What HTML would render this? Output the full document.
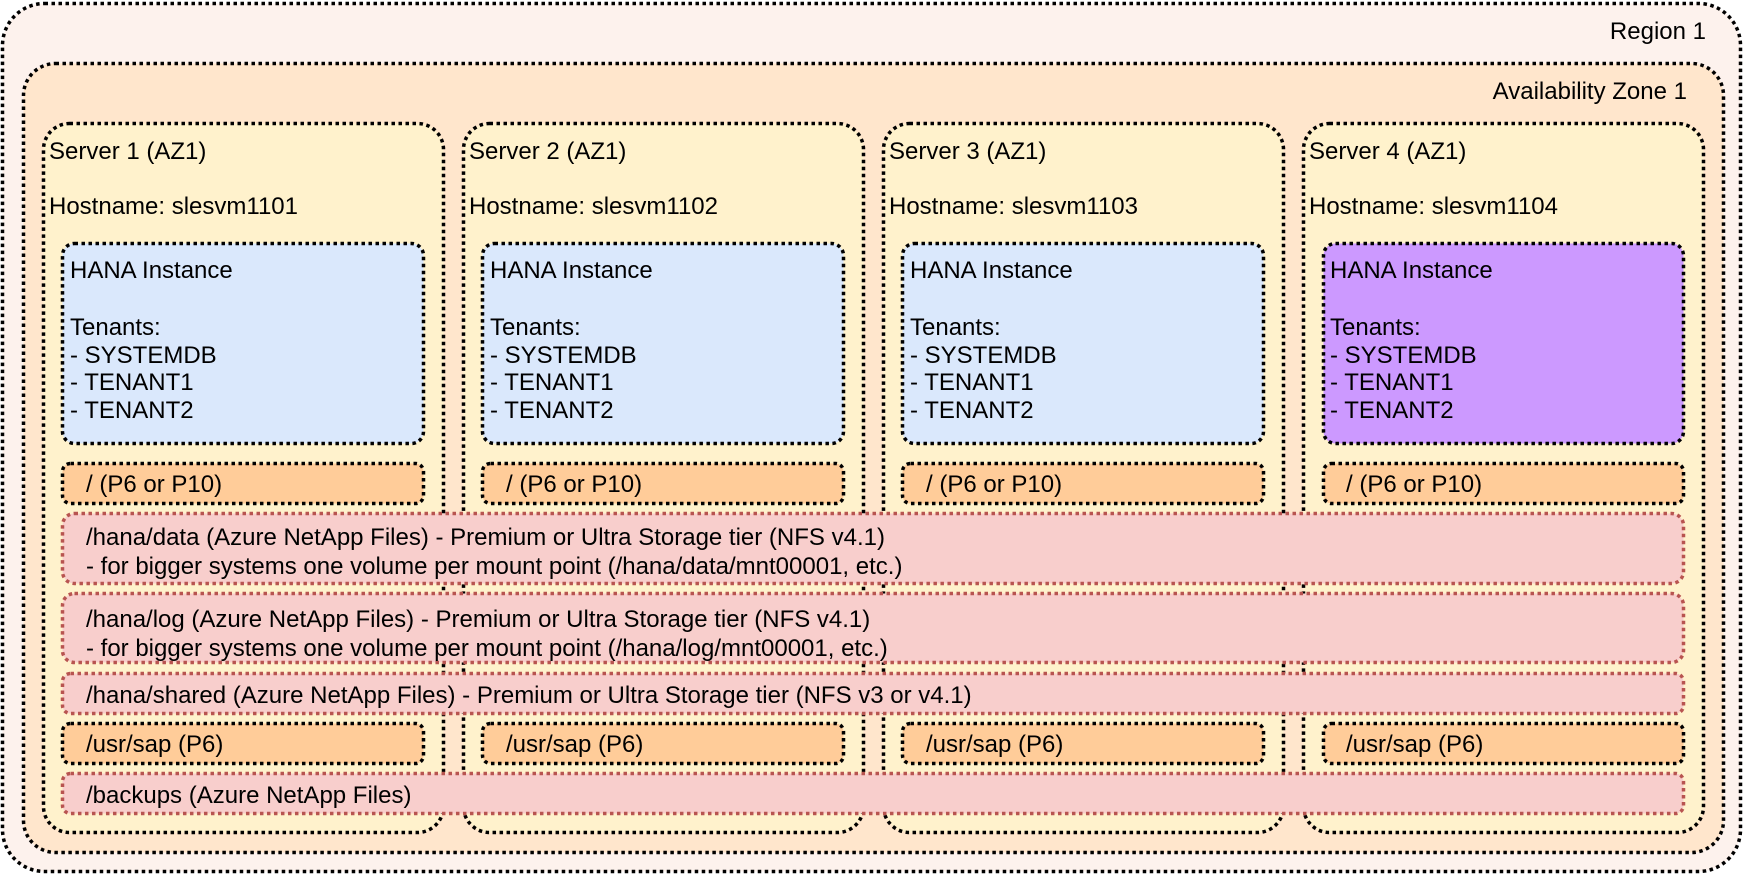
<!DOCTYPE html>
<html><head><meta charset="utf-8"><style>
html,body{margin:0;padding:0;background:#fff;}
svg{display:block;}
text{font-family:"Liberation Sans",Helvetica,Arial,sans-serif;font-size:24px;fill:#000;}
</style></head><body>
<svg width="1744" height="874" viewBox="0 0 1744 874" xmlns="http://www.w3.org/2000/svg">
<g stroke-width="3.5" stroke-dasharray="3.5 3.5">
<rect x="2.5" y="3.5" width="1738" height="868" rx="42" fill="#fdf2ed" stroke="#000"/>
<rect x="23.5" y="63.5" width="1700" height="789" rx="32" fill="#ffe6cc" stroke="#000"/>
<rect x="43.5" y="123.5" width="400" height="709" rx="26" fill="#fff2cc" stroke="#000"/>
<rect x="463.5" y="123.5" width="400" height="709" rx="26" fill="#fff2cc" stroke="#000"/>
<rect x="883.5" y="123.5" width="400" height="709" rx="26" fill="#fff2cc" stroke="#000"/>
<rect x="1303.5" y="123.5" width="400" height="709" rx="26" fill="#fff2cc" stroke="#000"/>
<rect x="62.5" y="243.5" width="361" height="200" rx="12" fill="#dae8fc" stroke="#000"/>
<rect x="482.5" y="243.5" width="361" height="200" rx="12" fill="#dae8fc" stroke="#000"/>
<rect x="902.5" y="243.5" width="361" height="200" rx="12" fill="#dae8fc" stroke="#000"/>
<rect x="1323.5" y="243.5" width="360" height="200" rx="12" fill="#cc99ff" stroke="#000"/>
<rect x="62.5" y="463.5" width="361" height="40" rx="8" fill="#ffcc99" stroke="#000"/>
<rect x="482.5" y="463.5" width="361" height="40" rx="8" fill="#ffcc99" stroke="#000"/>
<rect x="902.5" y="463.5" width="361" height="40" rx="8" fill="#ffcc99" stroke="#000"/>
<rect x="1323.5" y="463.5" width="360" height="40" rx="8" fill="#ffcc99" stroke="#000"/>
<rect x="62.5" y="513.5" width="1621" height="70" rx="12" fill="#f8cecc" stroke="#b85450"/>
<rect x="62.5" y="593.5" width="1621" height="69" rx="12" fill="#f8cecc" stroke="#b85450"/>
<rect x="62.5" y="673.5" width="1621" height="40" rx="8" fill="#f8cecc" stroke="#b85450"/>
<rect x="62.5" y="723.5" width="361" height="40" rx="8" fill="#ffcc99" stroke="#000"/>
<rect x="482.5" y="723.5" width="361" height="40" rx="8" fill="#ffcc99" stroke="#000"/>
<rect x="902.5" y="723.5" width="361" height="40" rx="8" fill="#ffcc99" stroke="#000"/>
<rect x="1323.5" y="723.5" width="360" height="40" rx="8" fill="#ffcc99" stroke="#000"/>
<rect x="62.5" y="773.5" width="1621" height="40" rx="8" fill="#f8cecc" stroke="#b85450"/>
</g>
<text x="1706" y="39" text-anchor="end">Region 1</text>
<text x="1687" y="99" text-anchor="end">Availability Zone 1</text>
<g>
<text x="49" y="159">Server 1 (AZ1)</text><text x="49" y="214">Hostname: slesvm1101</text>
<text x="469" y="159">Server 2 (AZ1)</text><text x="469" y="214">Hostname: slesvm1102</text>
<text x="889" y="159">Server 3 (AZ1)</text><text x="889" y="214">Hostname: slesvm1103</text>
<text x="1309" y="159">Server 4 (AZ1)</text><text x="1309" y="214">Hostname: slesvm1104</text>
</g>
<g>
<text x="70" y="278">HANA Instance</text><text x="70" y="335">Tenants:</text><text x="70" y="363">- SYSTEMDB</text><text x="70" y="390">- TENANT1</text><text x="70" y="418">- TENANT2</text>
<text x="490" y="278">HANA Instance</text><text x="490" y="335">Tenants:</text><text x="490" y="363">- SYSTEMDB</text><text x="490" y="390">- TENANT1</text><text x="490" y="418">- TENANT2</text>
<text x="910" y="278">HANA Instance</text><text x="910" y="335">Tenants:</text><text x="910" y="363">- SYSTEMDB</text><text x="910" y="390">- TENANT1</text><text x="910" y="418">- TENANT2</text>
<text x="1330" y="278">HANA Instance</text><text x="1330" y="335">Tenants:</text><text x="1330" y="363">- SYSTEMDB</text><text x="1330" y="390">- TENANT1</text><text x="1330" y="418">- TENANT2</text>
</g>
<text x="86" y="492">/ (P6 or P10)</text>
<text x="506" y="492">/ (P6 or P10)</text>
<text x="926" y="492">/ (P6 or P10)</text>
<text x="1346" y="492">/ (P6 or P10)</text>
<text x="86" y="545">/hana/data (Azure NetApp Files) - Premium or Ultra Storage tier (NFS v4.1)</text>
<text x="86" y="574">- for bigger systems one volume per mount point (/hana/data/mnt00001, etc.)</text>
<text x="86" y="627">/hana/log (Azure NetApp Files) - Premium or Ultra Storage tier (NFS v4.1)</text>
<text x="86" y="656">- for bigger systems one volume per mount point (/hana/log/mnt00001, etc.)</text>
<text x="86" y="703">/hana/shared (Azure NetApp Files) - Premium or Ultra Storage tier (NFS v3 or v4.1)</text>
<text x="86" y="752">/usr/sap (P6)</text>
<text x="506" y="752">/usr/sap (P6)</text>
<text x="926" y="752">/usr/sap (P6)</text>
<text x="1346" y="752">/usr/sap (P6)</text>
<text x="86" y="803">/backups (Azure NetApp Files)</text>
</svg>
</body></html>
